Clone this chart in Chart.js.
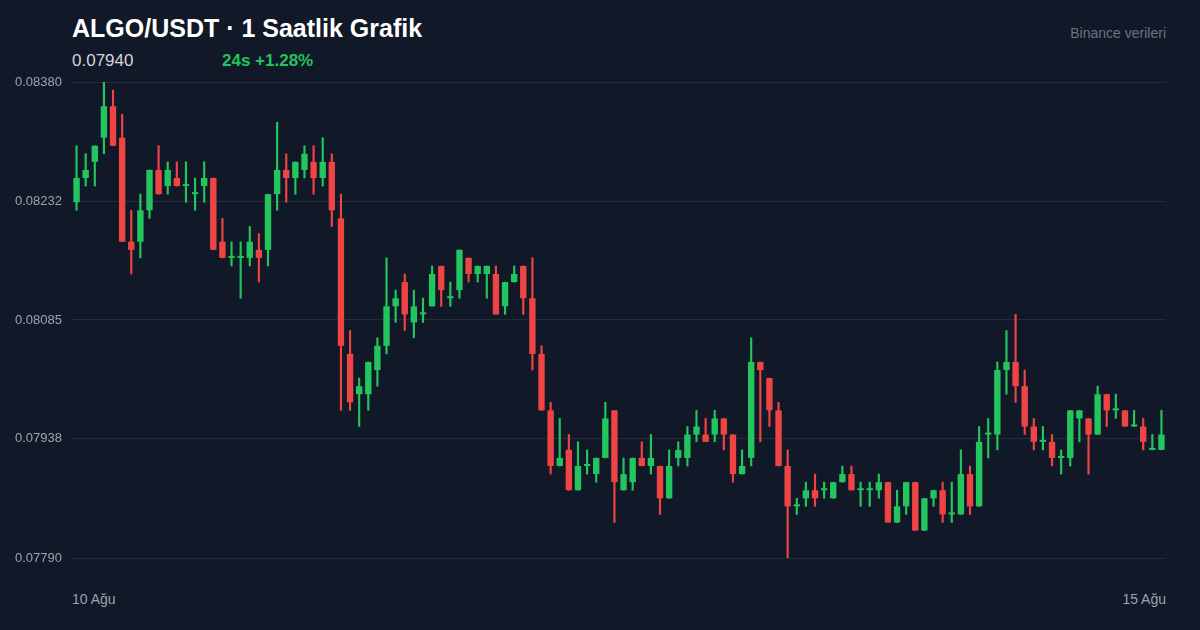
<!DOCTYPE html>
<html>
<head>
<meta charset="utf-8">
<script src="https://cdn.jsdelivr.net/npm/chart.js@4/dist/chart.umd.min.js"></script>
<style>
    html, body { margin: 0; padding: 0; background: #111827; }
    body { width: 1200px; height: 630px; position: relative; overflow: hidden; font-family: 'Liberation Sans', Arial, sans-serif; }
    .title { position: absolute; left: 72px; top: 14px; font-size: 25px; font-weight: bold; color: #ffffff; }
    .price { position: absolute; left: 72px; top: 51px; font-size: 17px; color: #d1d5db; }
    .change { position: absolute; left: 222px; top: 51px; font-size: 17px; font-weight: bold; color: #22c55e; }
    .source { position: absolute; right: 34px; top: 25px; font-size: 14px; color: #6b7280; }
    .xlab { position: absolute; top: 591px; font-size: 14px; color: #9ca3af; }
    #wrap { position: absolute; left: 0; top: 70px; width: 1200px; height: 500px; }
</style>
</head>
<body>
<div class="title">ALGO/USDT · 1 Saatlik Grafik</div>
<div class="price">0.07940</div>
<div class="change">24s +1.28%</div>
<div class="source">Binance verileri</div>
<div class="xlab" style="left:72px">10 Ağu</div>
<div class="xlab" style="right:34px">15 Ağu</div>
<div id="wrap"><canvas id="chart"></canvas></div>
<script>
// Hourly candles
const openPrices = [
    0.08231, 0.08261, 0.08281, 0.08311, 0.08350, 0.08311, 0.08182, 0.08182, 0.08221, 0.08271,
    0.08251, 0.08261, 0.08251, 0.08241, 0.08251, 0.08261, 0.08182, 0.08162, 0.08162, 0.08162,
    0.08172, 0.08172, 0.08241, 0.08271, 0.08261, 0.08271, 0.08281, 0.08261, 0.08281, 0.08211,
    0.08043, 0.07993, 0.07993, 0.08023, 0.08053, 0.08102, 0.08132, 0.08082, 0.08092, 0.08102,
    0.08152, 0.08112, 0.08122, 0.08162, 0.08142, 0.08142, 0.08142, 0.08102, 0.08132, 0.08152,
    0.08112, 0.08043, 0.07973, 0.07904, 0.07924, 0.07874, 0.07904, 0.07894, 0.07914, 0.07973,
    0.07874, 0.07884, 0.07914, 0.07904, 0.07904, 0.07864, 0.07914, 0.07914, 0.07943, 0.07943,
    0.07943, 0.07963, 0.07943, 0.07894, 0.07914, 0.08033, 0.08013, 0.07973, 0.07904, 0.07854,
    0.07864, 0.07874, 0.07874, 0.07864, 0.07884, 0.07894, 0.07874, 0.07874, 0.07874, 0.07884,
    0.07834, 0.07854, 0.07884, 0.07824, 0.07864, 0.07874, 0.07844, 0.07844, 0.07894, 0.07854,
    0.07943, 0.07943, 0.08023, 0.08033, 0.08003, 0.07953, 0.07934, 0.07934, 0.07914, 0.07914,
    0.07963, 0.07963, 0.07943, 0.07993, 0.07973, 0.07973, 0.07953, 0.07953, 0.07924, 0.07924
];
const highPrices = [
    0.08301, 0.08291, 0.08301, 0.08380, 0.08370, 0.08340, 0.08221, 0.08241, 0.08271, 0.08301,
    0.08281, 0.08281, 0.08281, 0.08261, 0.08281, 0.08261, 0.08211, 0.08182, 0.08182, 0.08201,
    0.08192, 0.08241, 0.08330, 0.08291, 0.08281, 0.08301, 0.08301, 0.08311, 0.08291, 0.08241,
    0.08072, 0.08013, 0.08033, 0.08063, 0.08162, 0.08122, 0.08142, 0.08122, 0.08112, 0.08152,
    0.08152, 0.08132, 0.08172, 0.08162, 0.08152, 0.08152, 0.08152, 0.08132, 0.08152, 0.08152,
    0.08162, 0.08053, 0.07983, 0.07963, 0.07943, 0.07934, 0.07924, 0.07914, 0.07983, 0.07973,
    0.07914, 0.07914, 0.07934, 0.07943, 0.07904, 0.07924, 0.07934, 0.07953, 0.07973, 0.07963,
    0.07973, 0.07963, 0.07943, 0.07924, 0.08063, 0.08033, 0.08013, 0.07983, 0.07924, 0.07864,
    0.07884, 0.07894, 0.07884, 0.07884, 0.07904, 0.07904, 0.07884, 0.07884, 0.07894, 0.07884,
    0.07874, 0.07884, 0.07884, 0.07864, 0.07874, 0.07884, 0.07884, 0.07924, 0.07904, 0.07953,
    0.07963, 0.08033, 0.08072, 0.08092, 0.08023, 0.07963, 0.07953, 0.07943, 0.07924, 0.07973,
    0.07973, 0.07963, 0.08003, 0.07993, 0.07993, 0.07973, 0.07973, 0.07963, 0.07943, 0.07973
];
const lowPrices = [
    0.08221, 0.08251, 0.08251, 0.08291, 0.08301, 0.08182, 0.08142, 0.08162, 0.08211, 0.08241,
    0.08241, 0.08251, 0.08231, 0.08221, 0.08231, 0.08172, 0.08162, 0.08152, 0.08112, 0.08152,
    0.08132, 0.08152, 0.08221, 0.08231, 0.08241, 0.08261, 0.08241, 0.08251, 0.08201, 0.07973,
    0.07973, 0.07953, 0.07973, 0.08003, 0.08043, 0.08082, 0.08072, 0.08063, 0.08082, 0.08102,
    0.08102, 0.08102, 0.08112, 0.08132, 0.08132, 0.08112, 0.08092, 0.08092, 0.08132, 0.08092,
    0.08023, 0.07973, 0.07894, 0.07904, 0.07874, 0.07874, 0.07894, 0.07884, 0.07914, 0.07834,
    0.07874, 0.07874, 0.07904, 0.07894, 0.07844, 0.07864, 0.07904, 0.07904, 0.07934, 0.07934,
    0.07934, 0.07924, 0.07884, 0.07894, 0.07904, 0.07934, 0.07953, 0.07904, 0.07790, 0.07844,
    0.07854, 0.07854, 0.07864, 0.07864, 0.07884, 0.07874, 0.07854, 0.07854, 0.07864, 0.07834,
    0.07834, 0.07844, 0.07824, 0.07824, 0.07854, 0.07834, 0.07834, 0.07844, 0.07844, 0.07854,
    0.07914, 0.07924, 0.07993, 0.07983, 0.07943, 0.07924, 0.07924, 0.07904, 0.07894, 0.07904,
    0.07934, 0.07894, 0.07943, 0.07953, 0.07963, 0.07953, 0.07953, 0.07924, 0.07924, 0.07924
];
const closePrices = [
    0.08261, 0.08271, 0.08301, 0.08350, 0.08301, 0.08182, 0.08172, 0.08221, 0.08271, 0.08241,
    0.08271, 0.08251, 0.08252, 0.08242, 0.08261, 0.08172, 0.08162, 0.08163, 0.08163, 0.08182,
    0.08162, 0.08241, 0.08271, 0.08261, 0.08281, 0.08291, 0.08261, 0.08281, 0.08221, 0.08053,
    0.07983, 0.08003, 0.08033, 0.08053, 0.08102, 0.08112, 0.08092, 0.08102, 0.08093, 0.08142,
    0.08122, 0.08113, 0.08172, 0.08142, 0.08152, 0.08152, 0.08092, 0.08132, 0.08142, 0.08112,
    0.08043, 0.07973, 0.07904, 0.07914, 0.07874, 0.07904, 0.07905, 0.07914, 0.07963, 0.07884,
    0.07894, 0.07914, 0.07904, 0.07914, 0.07864, 0.07904, 0.07924, 0.07943, 0.07953, 0.07934,
    0.07963, 0.07943, 0.07894, 0.07904, 0.08033, 0.08023, 0.07973, 0.07904, 0.07854, 0.07855,
    0.07874, 0.07864, 0.07875, 0.07884, 0.07894, 0.07874, 0.07875, 0.07875, 0.07884, 0.07834,
    0.07854, 0.07884, 0.07824, 0.07864, 0.07874, 0.07844, 0.07845, 0.07894, 0.07854, 0.07934,
    0.07944, 0.08023, 0.08033, 0.08003, 0.07953, 0.07934, 0.07935, 0.07914, 0.07915, 0.07973,
    0.07973, 0.07943, 0.07993, 0.07973, 0.07974, 0.07953, 0.07954, 0.07934, 0.07925, 0.07943
];
const tickValues = [0.07790, 0.07938, 0.08085, 0.08232, 0.08380];
const candleLabels = openPrices.map((_, i) => 'h' + i);

const UP = '#22c55e';
const DOWN = '#ef4444';

function candleColor(ctx) {
    const i = ctx.dataIndex;
    return closePrices[i] >= openPrices[i] ? UP : DOWN;
}

new Chart(document.getElementById('chart'), {
    type: 'bar',
    data: {
        labels: candleLabels,
        datasets: [
            {
                label: 'body',
                data: openPrices.map((o, i) => [o, closePrices[i]]),
                backgroundColor: candleColor,
                barPercentage: 0.7,
                categoryPercentage: 1,
                minBarLength: 2,
                grouped: false,
                order: 1
            },
            {
                label: 'wick',
                data: lowPrices.map((l, i) => [l, highPrices[i]]),
                backgroundColor: candleColor,
                barThickness: 1.5,
                grouped: false,
                order: 2
            }
        ]
    },
    options: {
        responsive: true,
        maintainAspectRatio: false,
        animation: false,
        layout: { padding: { left: 15, right: 34, top: 12, bottom: 12 } },
        plugins: { legend: { display: false }, tooltip: { enabled: false } },
        scales: {
            x: {
                display: false,
                offset: true
            },
            y: {
                min: 0.07790,
                max: 0.08380,
                afterBuildTicks: function (scale) {
                    scale.ticks = tickValues.map(v => ({ value: v }));
                },
                afterFit: function (scale) {
                    scale.width = 57;
                },
                grid: { color: 'rgba(255,255,255,0.09)', drawTicks: false },
                border: { display: false },
                ticks: {
                    crossAlign: 'far',
                    padding: 0,
                    color: '#9ca3af',
                    font: { family: 'Liberation Sans', size: 13 },
                    callback: v => Number(v).toFixed(5)
                }
            }
        }
    }
});
</script>
</body>
</html>
